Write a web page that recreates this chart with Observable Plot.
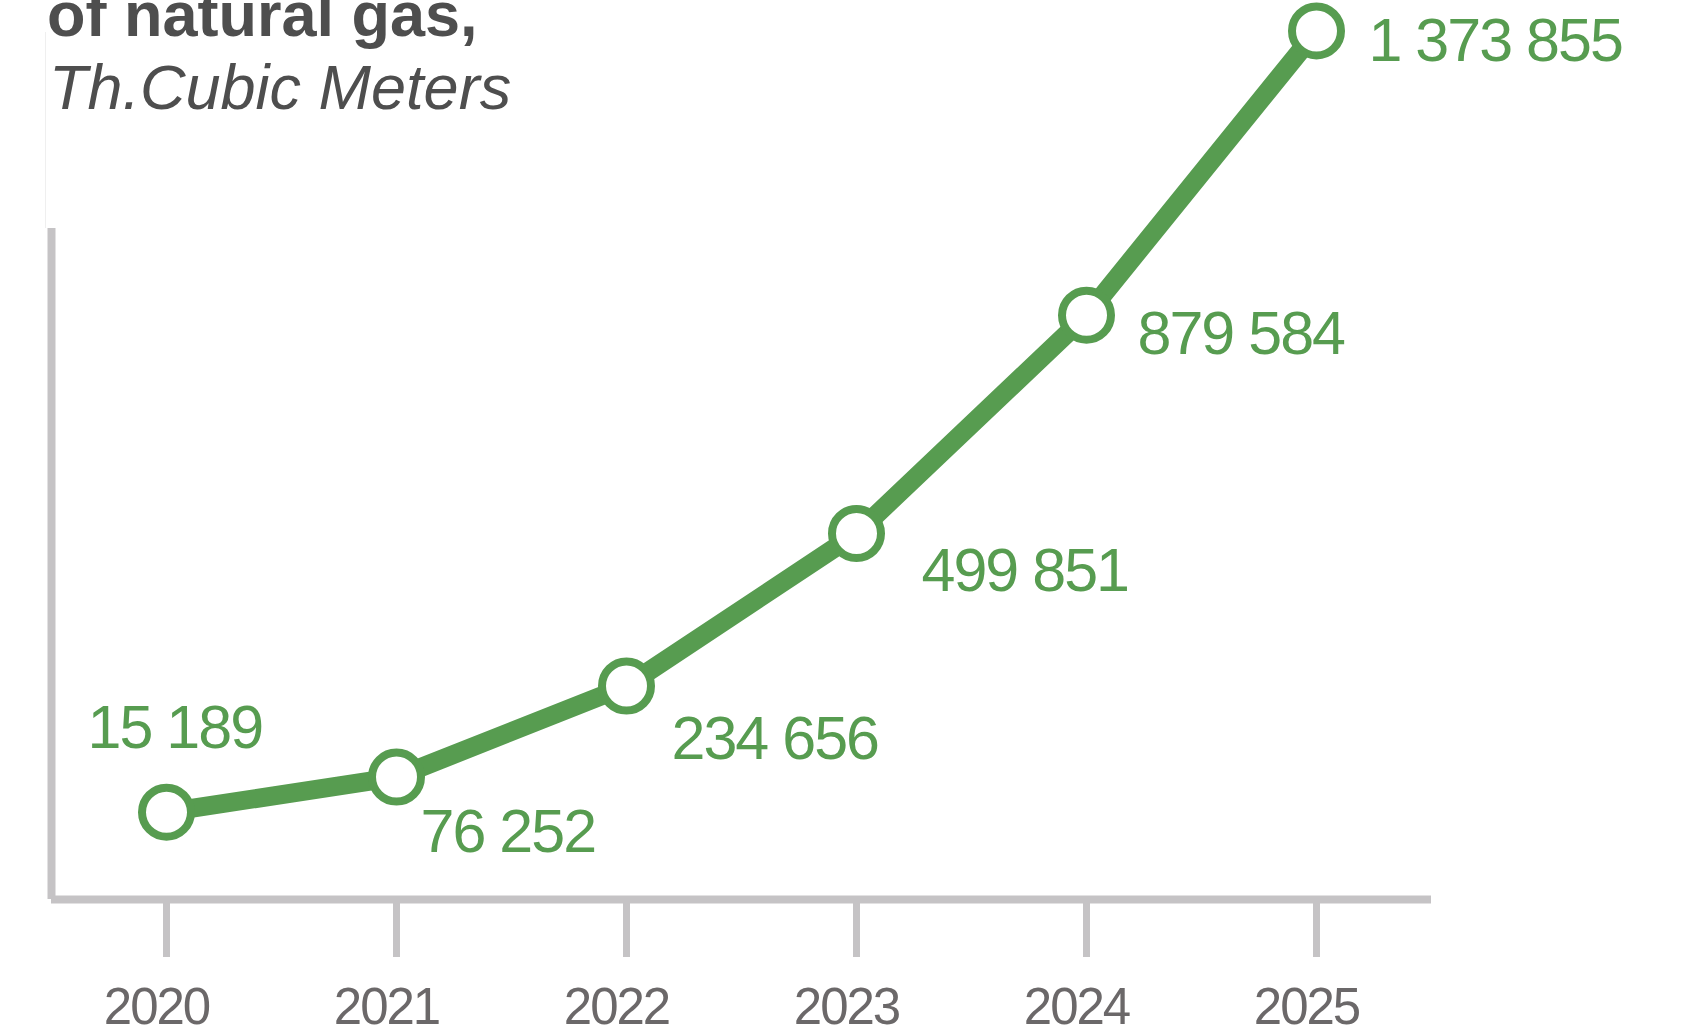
<!DOCTYPE html>
<html>
<head>
<meta charset="utf-8">
<script src="https://cdn.jsdelivr.net/npm/d3@7"></script>
<script src="https://cdn.jsdelivr.net/npm/@observablehq/plot@0.6"></script>
<style>
  html, body { margin: 0; padding: 0; background: #ffffff; overflow: hidden; }
  body { width: 1687px; height: 1034px; position: relative; font-family: "Liberation Sans", Arial, sans-serif; }
  #title { position: absolute; left: 47px; top: -17px; font-size: 63px; line-height: 63px; font-weight: bold; color: #4e4e4e; white-space: nowrap; z-index: 2; }
  #subtitle { position: absolute; left: 49px; top: 56px; font-size: 63px; line-height: 63px; font-style: italic; color: #4e4e4e; white-space: nowrap; z-index: 2; }
  #edge { position: absolute; left: 45px; top: 32px; width: 0; height: 196px; border-left: 1px solid #efefef; z-index: 1; }
  #chart { position: absolute; left: 0; top: 0; }
  #chart svg text { letter-spacing: -2px; }
</style>
</head>
<body>
<div id="edge"></div>
<div id="title">of natural gas,</div>
<div id="subtitle">Th.Cubic Meters</div>
<div id="chart"></div>
<script>
// ---- data ----
const years = [2020, 2021, 2022, 2023, 2024, 2025];
const values = [15189, 76252, 234656, 499851, 879584, 1373855];
const yearLabels = ["2020", "2021", "2022", "2023", "2024", "2025"];

const data = years.map((year, i) => ({ year, value: values[i], yearLabel: yearLabels[i] }));

const GREEN = "#579c50";
const AXIS = "#c5c3c5";
const YEARTXT = "#6b6869";

const fmt = d3.formatLocale({ decimal: ".", thousands: " ", grouping: [3], currency: ["", ""] }).format(",");

const xDomain = [2019.5, 2025.5];
const yDomain = [-136700, 1030300];

const label = (yr, dx, dy) => Plot.text(data, {
  filter: d => d.year === yr,
  x: "year", y: "value", text: d => fmt(d.value),
  textAnchor: "start", lineAnchor: "bottom",
  dx, dy, fontSize: 61, fill: GREEN
});

const chart = Plot.plot({
  width: 1687,
  height: 1034,
  marginLeft: 51,
  marginRight: 256,
  marginTop: 228,
  marginBottom: 135,
  style: { fontFamily: "'Liberation Sans', Arial, sans-serif", background: "transparent", overflow: "visible" },
  x: { domain: xDomain },
  y: { domain: yDomain, axis: null },
  marks: [
    Plot.axisX({ ticks: years, tickSize: 58, tickFormat: () => "", stroke: AXIS, strokeWidth: 7, label: null }),
    Plot.axisX({ ticks: years, tickSize: 0, tickPadding: 88, tickFormat: d => yearLabels[years.indexOf(d)], fontSize: 51, fill: YEARTXT, dx: -10, label: null }),
    Plot.ruleY([yDomain[0]], { stroke: AXIS, strokeWidth: 8 }),
    Plot.ruleX([xDomain[0]], { stroke: AXIS, strokeWidth: 8 }),
    Plot.line(data, { x: "year", y: "value", stroke: GREEN, strokeWidth: 19 }),
    Plot.dot(data, { x: "year", y: "value", r: 24.5, fill: "#ffffff", stroke: GREEN, strokeWidth: 8 }),
    label(2020, -79, -64),
    label(2021, 24, 75),
    label(2022, 45, 73),
    label(2023, 65, 58),
    label(2024, 51, 39),
    label(2025, 52, 30)
  ]
});

document.getElementById("chart").appendChild(chart);
</script>
</body>
</html>
